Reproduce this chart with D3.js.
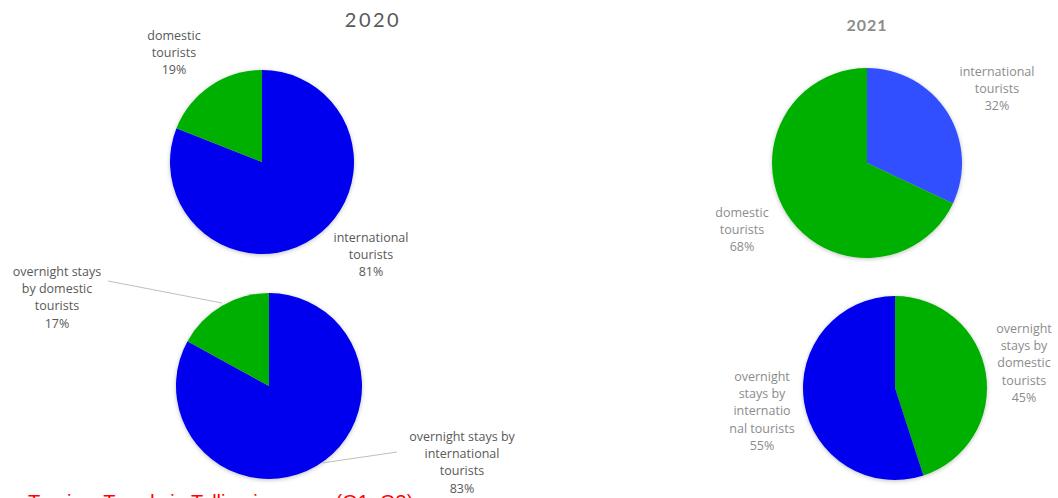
<!DOCTYPE html>
<html>
<head>
<meta charset="utf-8">
<script src="https://cdn.jsdelivr.net/npm/d3@7"></script>
<style>
  html, body { margin: 0; padding: 0; background: #fff; overflow: hidden; }
  svg { display: block; }
</style>
</head>
<body>
<svg id="chart" width="1058" height="498"></svg>
<script>
// ---- data ----
const years = ["2020", "2021"];
const touristCategories2020 = ["international tourists", "domestic tourists"];
const touristValues2020 = [81, 19];
const staysCategories2020 = ["overnight stays by international tourists", "overnight stays by domestic tourists"];
const staysValues2020 = [83, 17];
const touristCategories2021 = ["international tourists", "domestic tourists"];
const touristValues2021 = [32, 68];
const staysCategories2021 = ["overnight stays by domestic tourists", "overnight stays by international tourists"];
const staysValues2021 = [45, 55];
const footnote = "Tourism Trends in Tallinn in a year (Q1–Q3)";

// ---- styles ----
const blue = "#0000EE", blue2 = "#3050FF", green = "#00B000";

const svg = d3.select("#chart");
const defs = svg.append("defs");
const f = defs.append("filter").attr("id", "sh").attr("x", "-20%").attr("y", "-20%").attr("width", "140%").attr("height", "140%");
f.append("feDropShadow").attr("dx", 0).attr("dy", 1).attr("stdDeviation", 2).attr("flood-color", "#000").attr("flood-opacity", 0.25);

const pie = d3.pie().sort(null).value(d => d.v);

const pies = [
  { cats: touristCategories2020, vals: touristValues2020, colors: [blue, green], cx: 262, cy: 162, r: 92,
    labels: [
      { lines: ["international", "tourists", "81%"], dx: 109, dy: 80, color: "#595959" },
      { lines: ["domestic", "tourists", "19%"], dx: -88, dy: -122, color: "#595959" }
    ] },
  { cats: staysCategories2020, vals: staysValues2020, colors: [blue, green], cx: 269, cy: 386, r: 93,
    labels: [
      { lines: ["overnight stays by", "international", "tourists", "83%"], dx: 193, dy: 55, color: "#595959", leader: [[128, 66], [53, 77]] },
      { lines: ["overnight stays", "by domestic", "tourists", "17%"], dx: -212, dy: -110, color: "#595959", leader: [[-161, -105], [-47, -83]] }
    ] },
  { cats: touristCategories2021, vals: touristValues2021, colors: [blue2, green], cx: 867, cy: 163, r: 95,
    labels: [
      { lines: ["international", "tourists", "32%"], dx: 130, dy: -87, color: "#8c8c8c" },
      { lines: ["domestic", "tourists", "68%"], dx: -125, dy: 54, color: "#8c8c8c" }
    ] },
  { cats: staysCategories2021, vals: staysValues2021, colors: [green, blue], cx: 895, cy: 388, r: 92,
    labels: [
      { lines: ["overnight", "stays by", "domestic", "tourists", "45%"], dx: 129, dy: -55, color: "#8c8c8c" },
      { lines: ["overnight", "stays by", "internatio", "nal tourists", "55%"], dx: -133, dy: -7, color: "#8c8c8c" }
    ] }
];

pies.forEach(p => {
  const data = p.cats.map((c, i) => ({ c, v: p.vals[i], col: p.colors[i] }));
  const arc = d3.arc().innerRadius(0).outerRadius(p.r);
  const g = svg.append("g").attr("transform", `translate(${p.cx},${p.cy})`);
  g.append("g").attr("filter", "url(#sh)")
    .selectAll("path").data(pie(data)).join("path")
    .attr("d", arc).attr("fill", d => d.data.col);

  p.labels.forEach((lb, i) => {
    if (lb.leader) {
      g.append("line")
        .attr("x1", lb.leader[0][0]).attr("y1", lb.leader[0][1])
        .attr("x2", lb.leader[1][0]).attr("y2", lb.leader[1][1])
        .attr("stroke", "#bfbfbf").attr("stroke-width", 1);
    }
    const t = g.append("text")
      .attr("text-anchor", "middle")
      .attr("font-family", "Open Sans, Lato, sans-serif")
      .attr("font-size", 12.5)
      .attr("fill", lb.color);
    lb.lines.forEach((ln, k) => {
      t.append("tspan").attr("x", lb.dx).attr("y", lb.dy + k * 17.2).text(ln);
    });
  });
});

// titles
svg.append("text").attr("x", 373).attr("y", 27).attr("text-anchor", "middle")
  .attr("font-family", "Lato, Open Sans, sans-serif").attr("font-size", 20)
  .attr("letter-spacing", 2.5).attr("fill", "#595959").text(years[0]);
svg.append("text").attr("x", 867).attr("y", 31).attr("text-anchor", "middle")
  .attr("font-family", "Lato, Open Sans, sans-serif").attr("font-size", 16).attr("font-weight", "bold")
  .attr("letter-spacing", 1).attr("fill", "#8c8c8c").text(years[1]);

// footnote (clipped at bottom, as in the reference)
svg.append("text").attr("x", 28).attr("y", 509)
  .attr("font-family", "Liberation Sans, Arial, sans-serif").attr("font-size", 20)
  .attr("fill", "#ff0000").text(footnote);
</script>
</body>
</html>
